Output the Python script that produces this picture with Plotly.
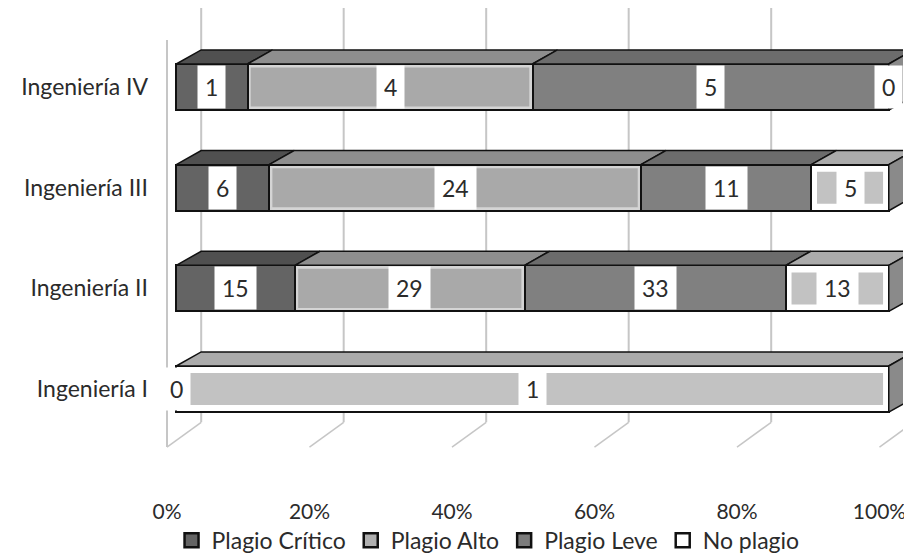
import plotly.graph_objects as go

categories = ["Ingeniería I", "Ingeniería II", "Ingeniería III", "Ingeniería IV"]
series_names = ["Plagio Crítico", "Plagio Alto", "Plagio Leve", "No plagio"]
plagio_critico = [0, 15, 6, 1]
plagio_alto = [None, 29, 24, 4]
plagio_leve = [None, 33, 11, 5]
no_plagio = [1, 13, 5, 0]
x_ticks = [0, 20, 40, 60, 80, 100]
x_tick_labels = ["0%", "20%", "40%", "60%", "80%", "100%"]

series_values = [plagio_critico, plagio_alto, plagio_leve, no_plagio]
front_colors = ["#646464", "#d4d4d4", "#808080", "#ffffff"]
inner_colors = [None, "#a9a9a9", None, "#c2c2c2"]
inner_inset = [None, (0.45, 0.035), None, (0.8, 0.07)]
legend_colors = ["#646464", "#b0b0b0", "#7c7c7c", "#ffffff"]
top_colors = ["#505050", "#8e8e8e", "#6c6c6c", "#ababab"]
side_color = "#8a8a8a"

FONT = "Lato"
TXT = "#2b2b2b"
ypos = list(range(len(categories)))
half = 0.229      # half height of front face (y units)
depth_y = 0.14    # top face depth (y units)
depth_x = 3.5     # skew of 3D depth (x units)
floor_x = -1.3    # front edge of the floor (x offset)

totals = [sum(v[i] for v in series_values if v[i] is not None) for i in ypos]
pcts = [[(v[i] / totals[i] * 100) if v[i] is not None else None for i in ypos] for v in series_values]

fig = go.Figure()

# front faces
for name, pc, col in zip(series_names, pcts, front_colors):
    fig.add_trace(go.Bar(
        y=ypos, x=pc, orientation="h", name=name, width=2 * half,
        marker=dict(color=col, line=dict(color="#111111", width=2)),
        hoverinfo="skip", showlegend=False, legendgroup=name,
    ))

starts = [[None] * len(ypos) for _ in series_values]
for i in ypos:
    acc = 0.0
    for s, pc in enumerate(pcts):
        if pc[i] is None:
            continue
        starts[s][i] = acc
        acc += pc[i]

# inner shading of lighter segments
for s, pc in enumerate(pcts):
    if inner_colors[s] is None:
        continue
    dx, dy = inner_inset[s]
    xs, ys = [], []
    for i in ypos:
        if pc[i] is None or pc[i] == 0:
            continue
        a = starts[s][i] + dx
        b = starts[s][i] + pc[i] - dx
        y0 = ypos[i] - half + dy
        y1 = ypos[i] + half - dy
        xs += [a, b, b, a, a, None]
        ys += [y0, y0, y1, y1, y0, None]
    fig.add_trace(go.Scatter(
        x=xs, y=ys, mode="lines", fill="toself", fillcolor=inner_colors[s],
        line=dict(width=0), showlegend=False, hoverinfo="skip",
    ))

# top faces
for s, (pc, col) in enumerate(zip(pcts, top_colors)):
    xs, ys = [], []
    for i in ypos:
        if pc[i] is None or pc[i] == 0:
            continue
        a = starts[s][i]
        b = a + pc[i]
        y0 = ypos[i] + half
        y1 = y0 + depth_y
        xs += [a, b, b + depth_x, a + depth_x, a, None]
        ys += [y0, y0, y1, y1, y0, None]
    fig.add_trace(go.Scatter(
        x=xs, y=ys, mode="lines", fill="toself", fillcolor=col,
        line=dict(color="#111111", width=1.5), showlegend=False, hoverinfo="skip",
    ))

# right side faces
sx, sy = [], []
for i in ypos:
    e = sum(p[i] for p in pcts if p[i] is not None)
    y0 = ypos[i] - half
    y1 = ypos[i] + half
    sx += [e, e, e + depth_x, e + depth_x, e, None]
    sy += [y0, y1, y1 + depth_y, y0 + depth_y, y0, None]
fig.add_trace(go.Scatter(
    x=sx, y=sy, mode="lines", fill="toself", fillcolor=side_color,
    line=dict(color="#111111", width=1.5), showlegend=False, hoverinfo="skip",
))

# legend entries (square swatches)
for name, col in zip(series_names, legend_colors):
    fig.add_trace(go.Scatter(
        x=[None], y=[None], mode="markers", name=name, legendgroup=name,
        marker=dict(symbol="square", size=14, color=col, line=dict(color="#111111", width=2.5)),
        hoverinfo="skip",
    ))

# value labels
for s, (vals, pc) in enumerate(zip(series_values, pcts)):
    for i in ypos:
        if vals[i] is None:
            continue
        fig.add_annotation(
            x=starts[s][i] + pc[i] / 2, y=ypos[i], text=str(vals[i]),
            showarrow=False, bgcolor="white", borderpad=7,
            font=dict(family=FONT, size=23, color=TXT),
        )

# back-wall grid lines and floor diagonals
for v in x_ticks:
    fig.add_shape(type="line", xref="x", yref="y", x0=v + depth_x, x1=v + depth_x,
                  y0=-0.33, y1=3.9, line=dict(color="#c6c6c6", width=2), layer="below")
    fig.add_shape(type="line", xref="x", yref="y", x0=v + depth_x, x1=v + floor_x,
                  y0=-0.33, y1=-0.576, line=dict(color="#c6c6c6", width=1.5), layer="below")
fig.add_shape(type="line", xref="x", yref="y", x0=floor_x, x1=floor_x, y0=-0.576, y1=3.467,
              line=dict(color="#c6c6c6", width=2), layer="below")

fig.update_layout(
    width=904, height=547,
    margin=dict(l=154, r=9, t=0, b=58, autoexpand=False),
    barmode="stack",
    plot_bgcolor="white", paper_bgcolor="white",
    font=dict(family=FONT, size=23, color=TXT),
    xaxis=dict(range=[-2, 102], tickvals=[v + floor_x for v in x_ticks], ticktext=x_tick_labels,
               showgrid=False, zeroline=False, showline=False, ticks="",
               tickfont=dict(size=21), automargin=False),
    yaxis=dict(range=[-1.072, 3.785], tickvals=ypos, ticktext=categories,
               showgrid=False, zeroline=False, showline=False, ticks="",
               tickfont=dict(size=23), ticklabelstandoff=13, automargin=False),
    legend=dict(orientation="h", x=0.44, xanchor="center", yref="container",
                y=0.027, yanchor="middle",
                font=dict(size=23), traceorder="normal", itemwidth=30),
    showlegend=True,
)

fig.write_html("out.html")
